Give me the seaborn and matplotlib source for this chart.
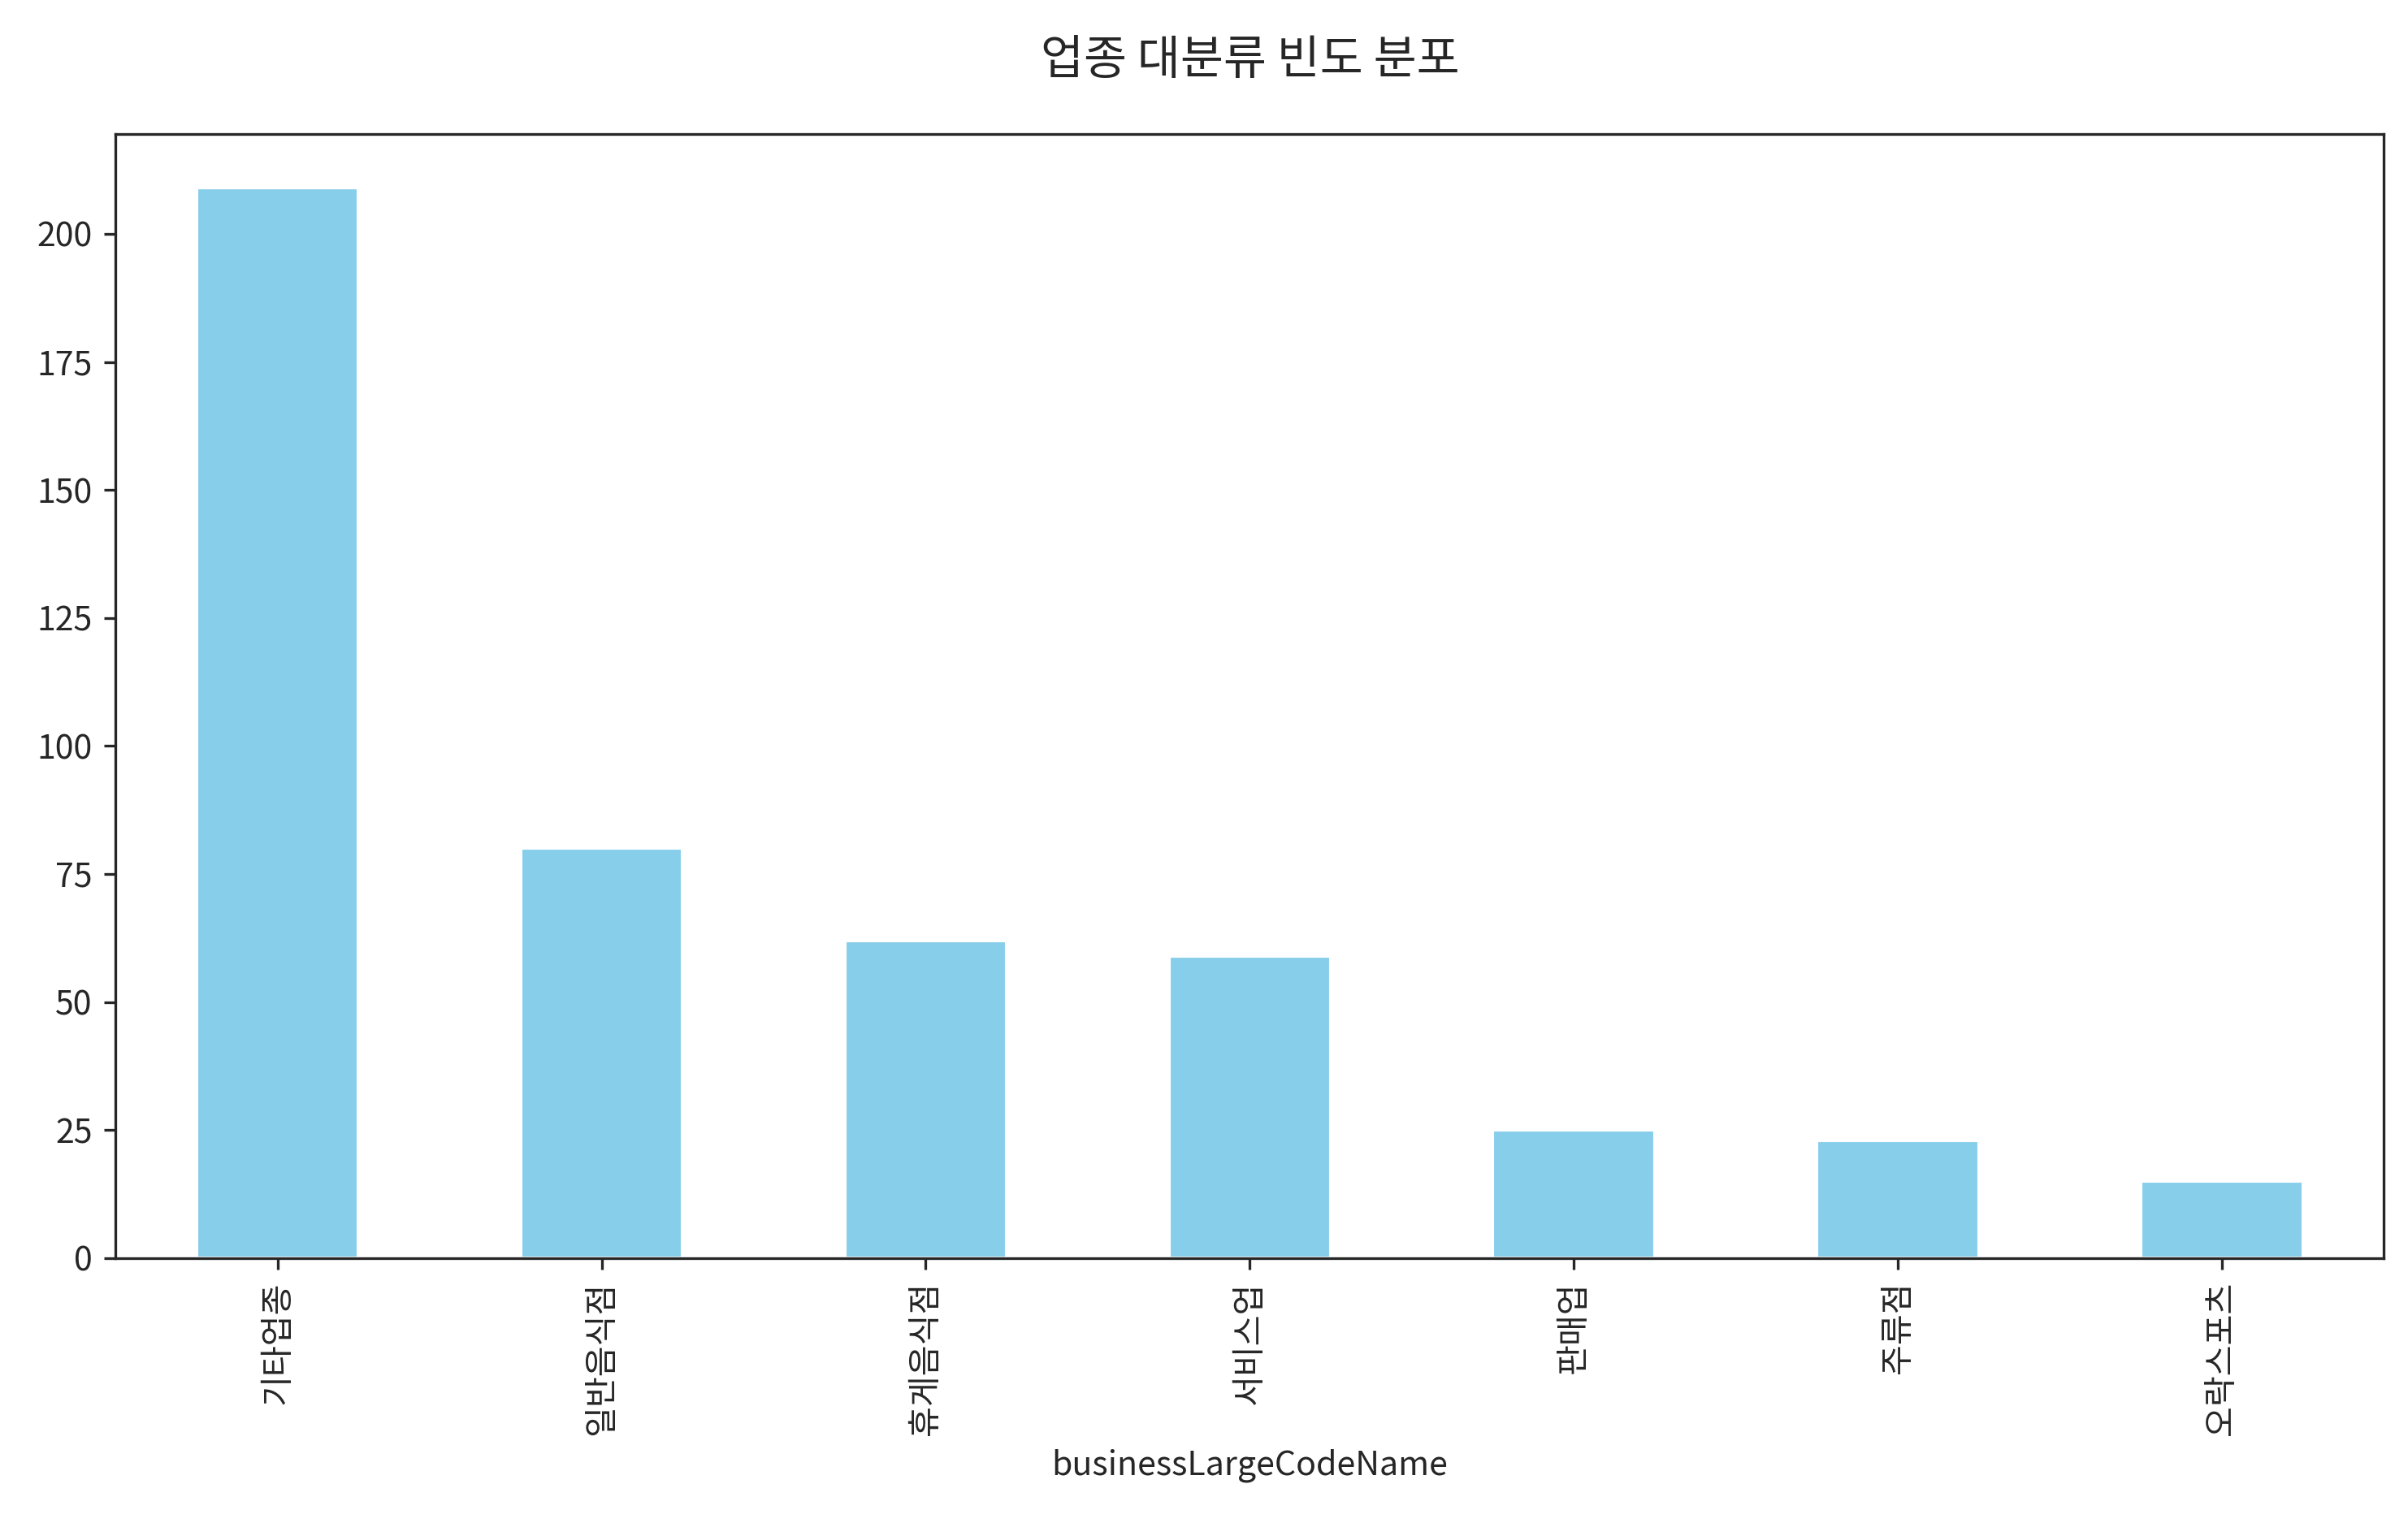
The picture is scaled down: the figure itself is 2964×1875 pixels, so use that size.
import matplotlib
matplotlib.use("Agg")
import matplotlib.pyplot as plt
import seaborn as sns
import pandas as pd

categories = ["기타업종", "일반음식점", "휴게음식점", "서비스업", "판매업", "주류점", "오락스포츠"]
counts = [209, 80, 62, 59, 25, 23, 15]

sns.set_style("ticks")
plt.rcParams['font.family'] = ['Noto Sans CJK KR', 'DejaVu Sans']

df = pd.DataFrame({"businessLargeCodeName": categories, "count": counts})
fig, ax = plt.subplots(figsize=(10, 6.326), dpi=296.4)
sns.barplot(data=df, x="businessLargeCodeName", y="count", color="skyblue",
            saturation=1, width=0.5, ax=ax)
ax.set_xlim(-0.5, len(categories) - 0.5)
ax.set_ylim(0, 219.5)
ax.set_ylabel("")
ax.set_xlabel("businessLargeCodeName")
ax.set_title("업종 대분류 빈도 분포", fontsize=14, pad=18)
plt.setp(ax.get_xticklabels(), rotation=90)
for s in ax.spines.values():
    s.set_visible(True)
plt.subplots_adjust(left=0.048, right=0.99, top=0.912, bottom=0.174)
fig.savefig("out.png")
